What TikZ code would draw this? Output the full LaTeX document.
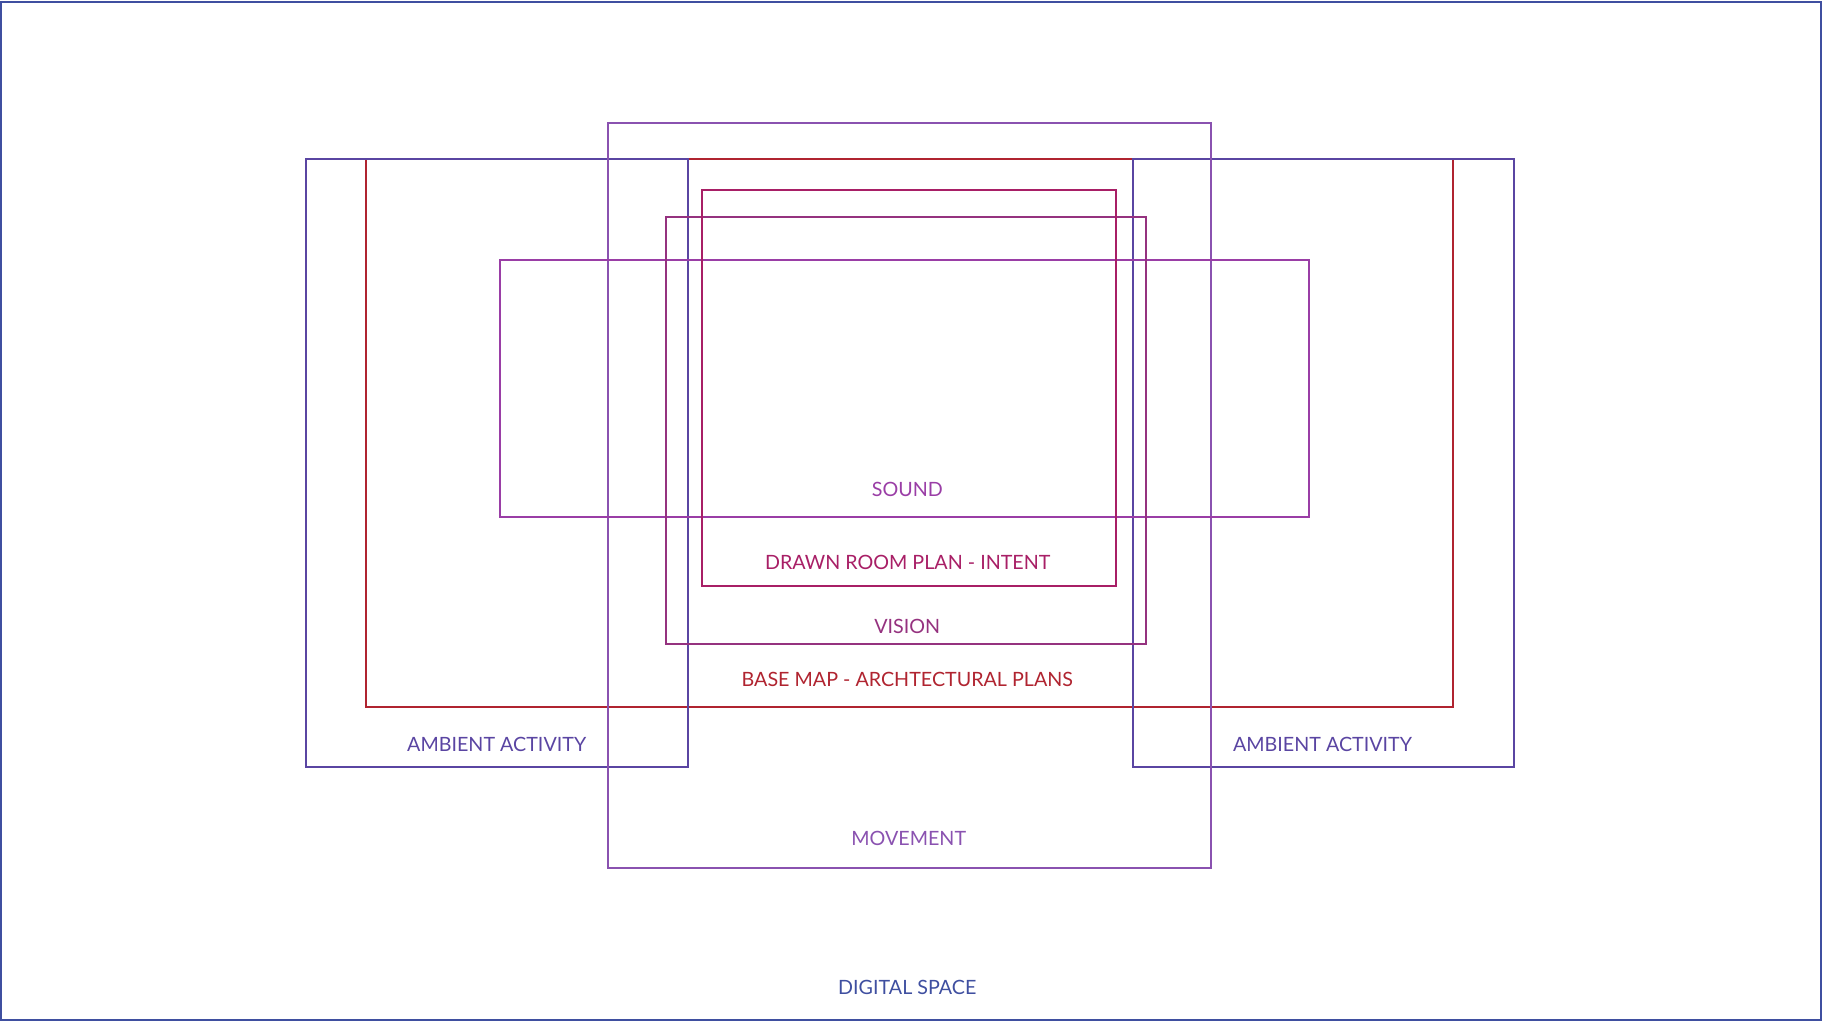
\documentclass[tikz,border=0pt]{standalone}
\usepackage{fontspec}
\setmainfont{Lato}
\definecolor{cframe}{HTML}{3F4FA0}
\definecolor{camb}{HTML}{5A45A2}
\definecolor{cred}{HTML}{B02430}
\definecolor{cmove}{HTML}{8A52B0}
\definecolor{csound}{HTML}{9A3EA6}
\definecolor{cvision}{HTML}{95327F}
\definecolor{cdrawn}{HTML}{A81F66}
\begin{document}
\begin{tikzpicture}[x=1pt,y=-1pt,
  box/.style={line width=2pt},
  lab/.style={font=\fontsize{19.7}{24}\selectfont, inner sep=0pt, anchor=center}]
\useasboundingbox (0,0) rectangle (1822,1021);
% outer frame
\draw[box,cframe] (1,2) rectangle (1821,1020);
% base map
\draw[box,cred] (366,159.3) rectangle (1453.3,706.7);
% ambient activity boxes
\draw[box,camb] (306,159.3) rectangle (687.7,766.7);
\draw[box,camb] (1132.7,159.3) rectangle (1514.3,766.7);
% movement
\draw[box,cmove] (608.3,123.3) rectangle (1211,867.7);
% sound
\draw[box,csound] (500,260.3) rectangle (1309.3,516.7);
% vision
\draw[box,cvision] (666,216.7) rectangle (1146,643.7);
% drawn room plan
\draw[box,cdrawn] (702.3,190.3) rectangle (1116,586);
% labels
\node[lab,text=csound] (tsound) at (907.3,489.5) {SOUND};
\node[lab,text=cdrawn] (tdrawn) at (907.7,562.2) {DRAWN ROOM PLAN - INTENT};
\node[lab,text=cvision] (tvision) at (907.3,626.9) {VISION};
\node[lab,text=cred] (tbase) at (907.3,679.5) {BASE MAP - ARCHTECTURAL PLANS};
\node[lab,text=camb] (tambl) at (496.7,744.5) {AMBIENT ACTIVITY};
\node[lab,text=camb] (tambr) at (1322.5,744.5) {AMBIENT ACTIVITY};
\node[lab,text=cmove] (tmove) at (908.7,838.2) {MOVEMENT};
\node[lab,text=cframe] (tdigital) at (907.3,987.9) {DIGITAL SPACE};
\end{tikzpicture}
\end{document}
